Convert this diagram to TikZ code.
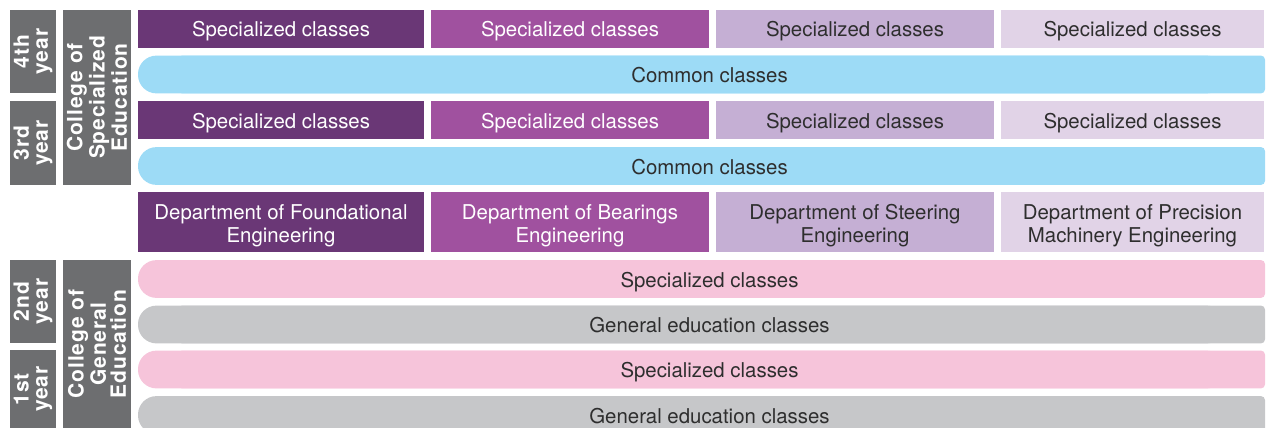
\documentclass[tikz,border=0pt]{standalone}
\usepackage{fontspec}
\setmainfont{TeX Gyre Heros}
\newfontfamily\labelfont[LetterSpace=4]{TeX Gyre Heros}
\usetikzlibrary{backgrounds}

\definecolor{labelgray}{HTML}{6D6E70}
\definecolor{darkpurple}{HTML}{6A3776}
\definecolor{midpurple}{HTML}{A0519F}
\definecolor{lightpurple}{HTML}{C5AFD4}
\definecolor{palepurple}{HTML}{E1D3E7}
\definecolor{comblue}{HTML}{9DDBF6}
\definecolor{specpink}{HTML}{F6C4DA}
\definecolor{genegray}{HTML}{C6C7C9}
\definecolor{darktext}{HTML}{2E2E2E}

\begin{document}
\begin{tikzpicture}[x=0.5pt,y=-0.5pt,
  yearbox/.style={fill=labelgray,text=white,rotate=90,minimum height=23pt,inner sep=0pt,align=center,font=\labelfont\bfseries\fontsize{10.5}{9.5}\selectfont},
  collegebox/.style={yearbox,minimum height=34pt,font=\labelfont\bfseries\fontsize{10.5}{10}\selectfont},
  classbox/.style={minimum height=19pt,inner sep=0pt,text height=8pt,text depth=0pt,align=center,font=\fontsize{10.2}{11.5}\selectfont},
  deptbox/.style={minimum height=30pt,inner sep=0pt,text height=20.5pt,text depth=0pt,align=center,font=\fontsize{10.2}{11.5}\selectfont},
  barlabel/.style={inner sep=0pt,minimum height=18.5pt,text height=8pt,text depth=0pt,text=darktext,font=\fontsize{10.2}{11.5}\selectfont}]
  \useasboundingbox (0,0) rectangle (1266,428);

  \node[yearbox,minimum width=41.5pt] (y4) at (33,51.5) {4th\\year};
  \node[yearbox,minimum width=42pt] (y3) at (33,143) {3rd\\year};
  \node[yearbox,minimum width=41.5pt] (y2) at (33,301.5) {2nd\\year};
  \node[yearbox,minimum width=39pt] (y1) at (33,389) {1st\\year};
  \node[collegebox,minimum width=87.5pt] (cse) at (97,97.5) {College of\\Specialized\\Education};
  \node[collegebox,minimum width=84pt] (cge) at (97,344) {College of\\General\\Education};

  \foreach \c/\x/\w/\fc/\tc in {1/281/143/darkpurple/white,2/570/139/midpurple/white,3/855/139/lightpurple/darktext,4/1132.5/131.5/palepurple/darktext} {
    \node[classbox,fill=\fc,text=\tc,minimum width=\w pt] (spec4-\c) at (\x,29) {Specialized classes};
    \node[classbox,fill=\fc,text=\tc,minimum width=\w pt] (spec3-\c) at (\x,120) {Specialized classes};
  }
  \node[deptbox,fill=darkpurple,text=white,minimum width=143pt] (found) at (281,222) {Department of Foundational\\Engineering};
  \node[deptbox,fill=midpurple,text=white,minimum width=139pt] (bear) at (570,222) {Department of Bearings\\Engineering};
  \node[deptbox,fill=lightpurple,text=darktext,minimum width=139pt] (steer) at (855,222) {Department of Steering\\Engineering};
  \node[deptbox,fill=palepurple,text=darktext,minimum width=131.5pt] (prec) at (1132.5,222) {Department of Precision\\Machinery Engineering};

  \node[barlabel] (common4) at (709.5,74.5) {Common classes};
  \node[barlabel] (common3) at (709.5,166) {Common classes};
  \node[barlabel] (spec2) at (709.5,279) {Specialized classes};
  \node[barlabel] (gen2) at (709.5,324.5) {General education classes};
  \node[barlabel] (spec1) at (709.5,369.5) {Specialized classes};
  \node[barlabel] (gen1) at (709.5,415) {General education classes};

  \coordinate (barleft) at (138,0);
  \coordinate (barleft2) at (178,0);
  \coordinate (barright) at (1265,0);
  \coordinate (barright2) at (1225,0);
  \begin{scope}[on background layer]
    \foreach \b/\fc in {common4/comblue,common3/comblue,spec2/specpink,gen2/genegray,spec1/specpink,gen1/genegray} {
      \fill[\fc,rounded corners=9.25pt] (\b.north -| barleft) rectangle (\b.south -| barright2);
      \fill[\fc,rounded corners=2pt] (\b.north -| barleft2) rectangle (\b.south -| barright);
    }
  \end{scope}
\end{tikzpicture}
\end{document}
